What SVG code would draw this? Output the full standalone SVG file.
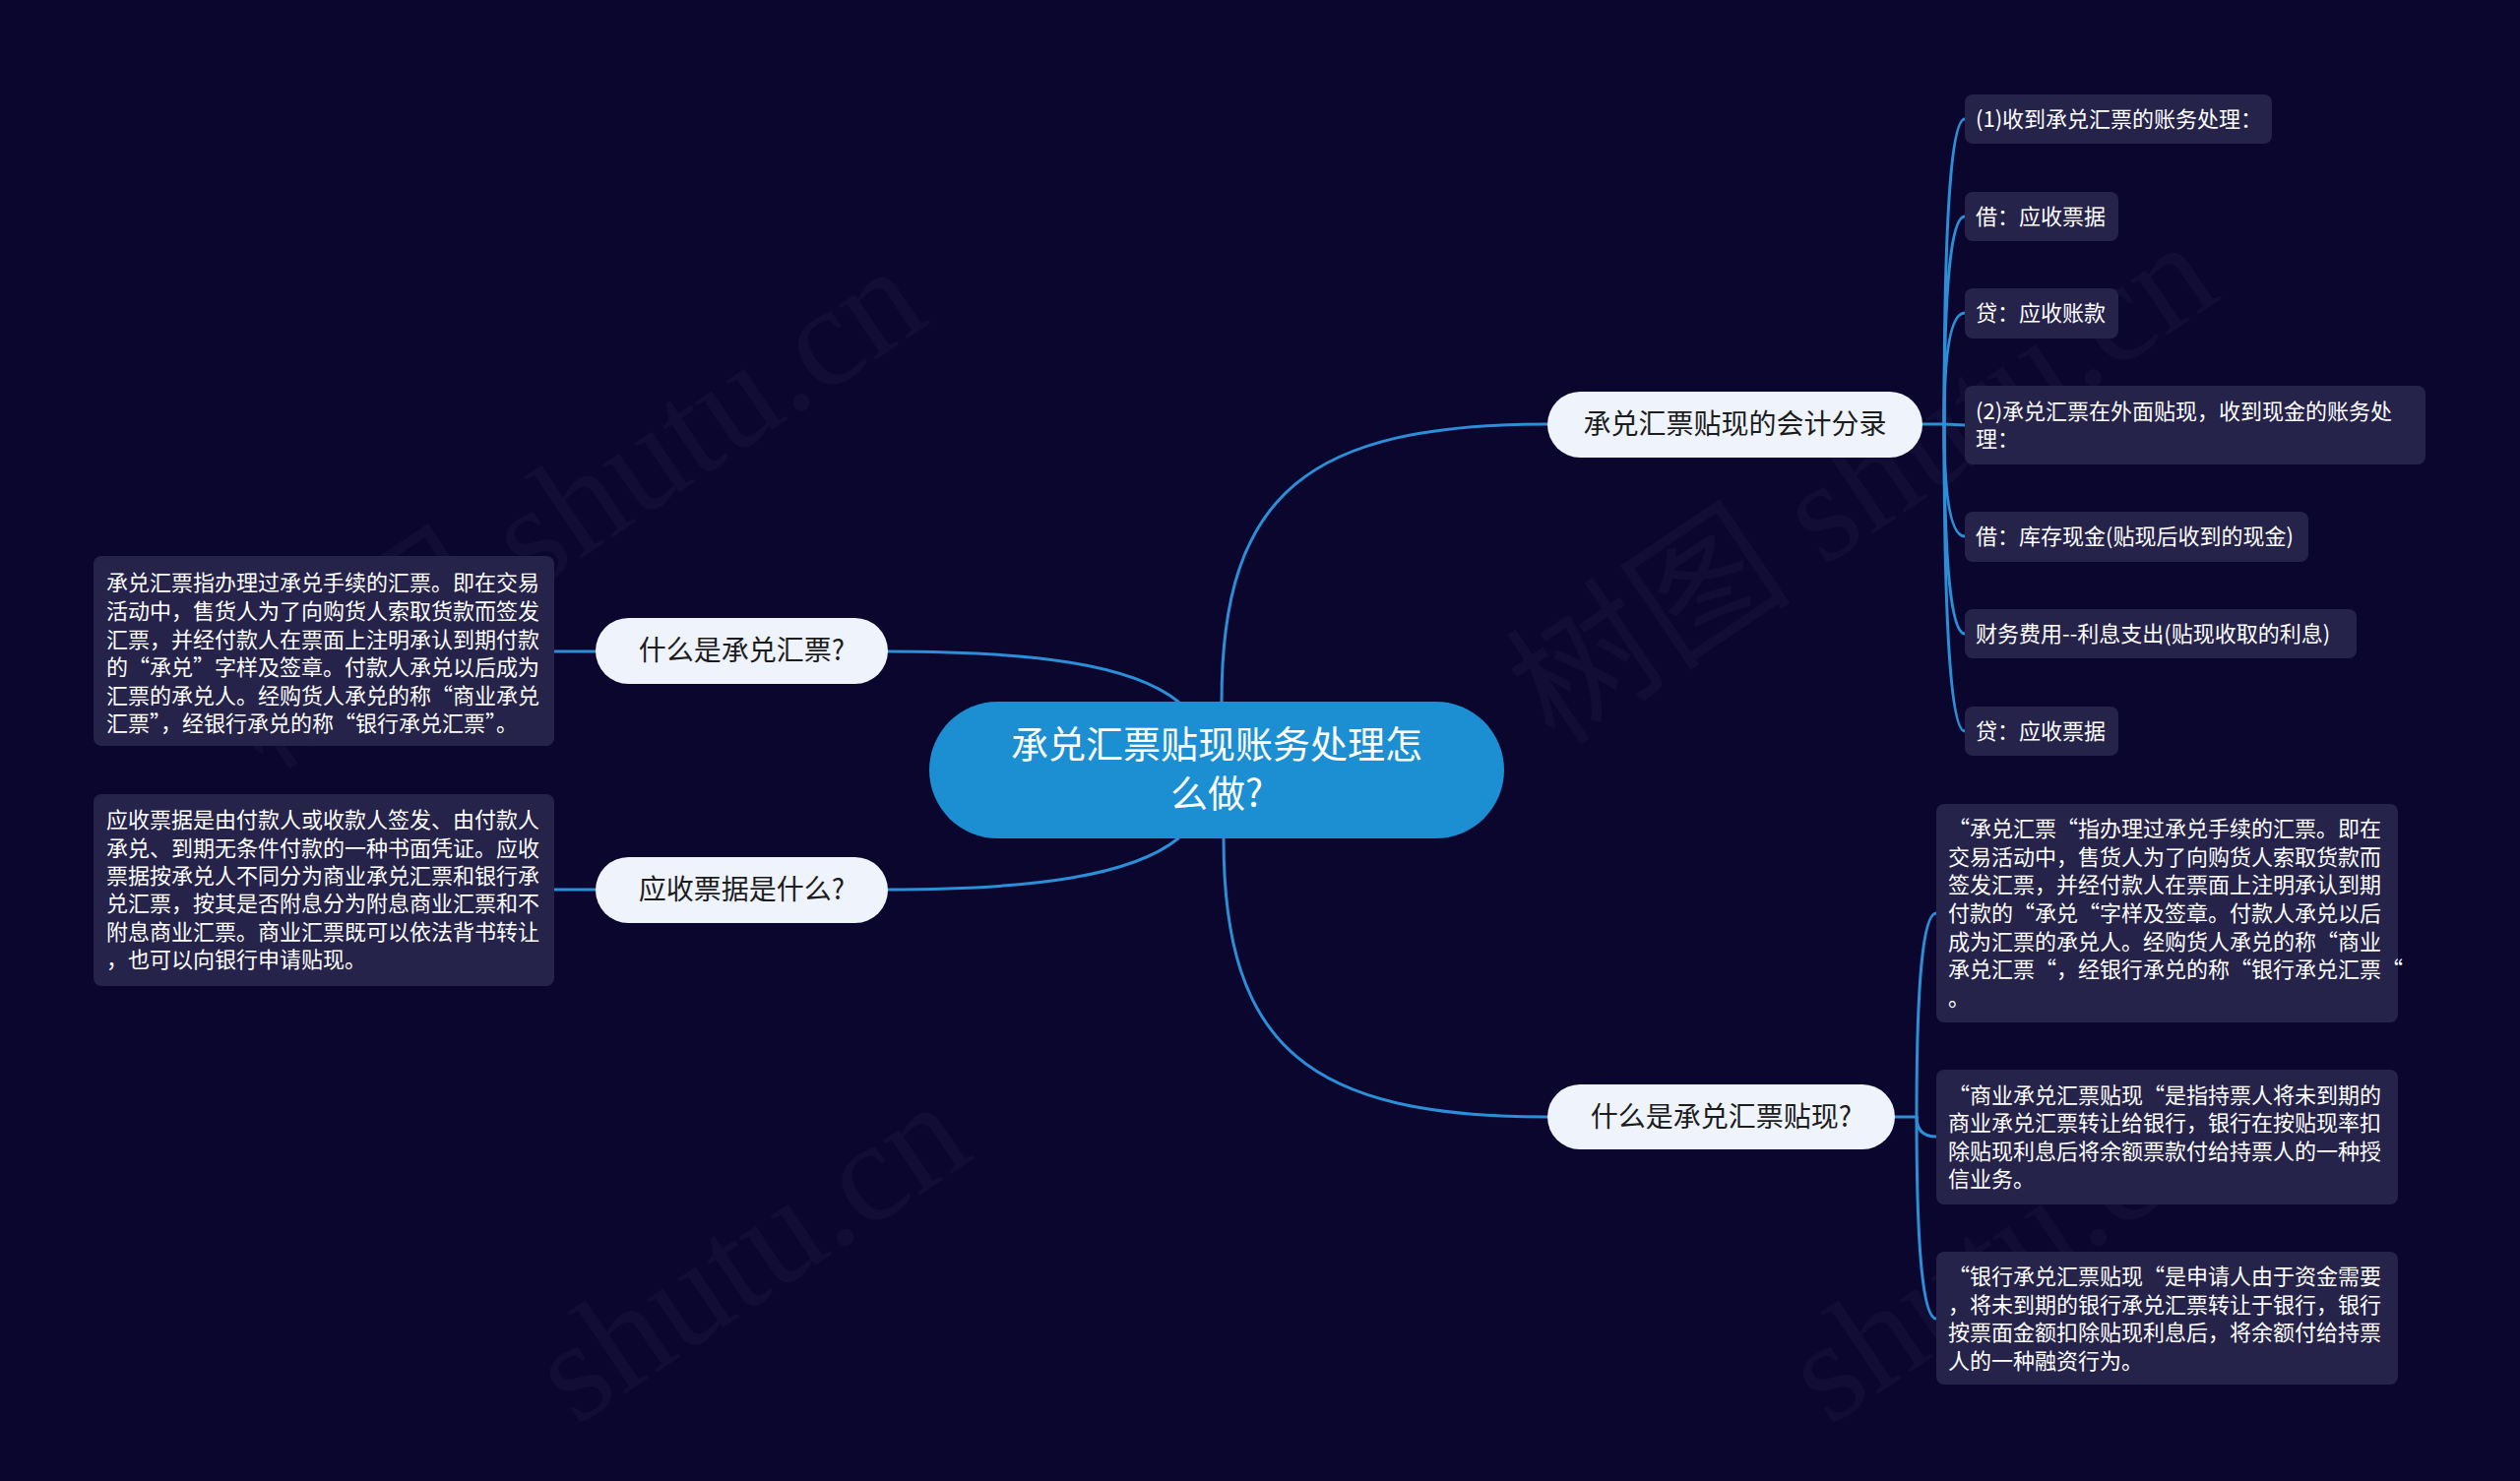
<svg xmlns="http://www.w3.org/2000/svg" width="2560" height="1505" viewBox="0 0 2560 1505">
<style>
text { font-family: 'Noto Sans CJK SC', 'Noto Sans', sans-serif; }
.bg { fill: #0a062e; }
.wm { font-family: 'Liberation Serif', 'Noto Sans CJK SC', serif; font-size: 146px; fill: #ffffff; fill-opacity: 0.03; }
.root rect { fill: #1b8fd2; }
.root text { fill: #ffffff; font-size: 38px; text-anchor: middle; }
.l1 rect { fill: #eef3fc; }
.l1 text { fill: #1c1c1c; font-size: 28px; text-anchor: middle; }
.leaf rect { fill: #26234b; }
.leaf text { fill: #ffffff; font-size: 22px; }
.conn path { fill: none; stroke: #2b8fd8; stroke-width: 3; stroke-linecap: round; }
</style>
<rect class="bg" x="0" y="0" width="2560" height="1505"/>
<g id="watermarks">
<text class="wm" transform="translate(268,785) rotate(-34)">树图 shutu.cn</text>
<text class="wm" transform="translate(1580,760) rotate(-34)">树图 shutu.cn</text>
<text class="wm" transform="translate(585,1450) rotate(-34)">shutu.cn</text>
<text class="wm" transform="translate(1858,1450) rotate(-34)">shutu.cn</text>
</g>
<g id="connectors" class="conn">
<path d="M1241,713 C1241,500 1330,431 1572,431"/>
<path d="M1243,852 C1243,1065 1330,1135 1572,1135"/>
<path d="M1197,713 C1150,675 1050,662 901,662"/>
<path d="M1197,852 C1150,890 1050,904 901,904"/>
<path d="M605,662 L563,662"/>
<path d="M605,904 L563,904"/>
<path d="M1953,431 L1975,431"/>
<path d="M1975,431 Q1975,121 1996,121"/>
<path d="M1975,431 Q1975,220 1996,220"/>
<path d="M1975,431 Q1975,318 1996,318"/>
<path d="M1975,431 L1996,432"/>
<path d="M1975,431 Q1975,545 1996,545"/>
<path d="M1975,431 Q1975,644 1996,644"/>
<path d="M1975,431 Q1975,743 1996,743"/>
<path d="M1925,1135 L1947,1135"/>
<path d="M1947,1135 Q1947,928 1967,928"/>
<path d="M1947,1135 Q1947,1155 1967,1155"/>
<path d="M1947,1135 Q1947,1340 1967,1340"/>
</g>
<g id="root" class="root">
<rect x="944" y="713" width="584" height="139" rx="69.5"/>
<text x="1236" y="770">承兑汇票贴现账务处理怎</text>
<text x="1236" y="820">么做?</text>
</g>
<g id="n-what-acceptance" class="l1">
<rect x="605" y="628" width="297" height="67" rx="33.5"/>
<text x="753.5" y="671">什么是承兑汇票?</text>
</g>
<g id="n-what-receivable" class="l1">
<rect x="605" y="871" width="297" height="67" rx="33.5"/>
<text x="753.5" y="914">应收票据是什么?</text>
</g>
<g id="n-entries" class="l1">
<rect x="1572" y="398" width="381" height="67" rx="33.5"/>
<text x="1762.5" y="441">承兑汇票贴现的会计分录</text>
</g>
<g id="n-what-discount" class="l1">
<rect x="1572" y="1102" width="353" height="66" rx="33"/>
<text x="1748.5" y="1145">什么是承兑汇票贴现?</text>
</g>
<g id="t-acceptance" class="leaf">
<rect x="95" y="565" width="468" height="193" rx="8"/>
<text x="108" y="600">承兑汇票指办理过承兑手续的汇票。即在交易</text>
<text x="108" y="629">活动中，售货人为了向购货人索取货款而签发</text>
<text x="108" y="658">汇票，并经付款人在票面上注明承认到期付款</text>
<text x="108" y="686">的“承兑”字样及签章。付款人承兑以后成为</text>
<text x="108" y="715">汇票的承兑人。经购货人承兑的称“商业承兑</text>
<text x="108" y="743">汇票”，经银行承兑的称“银行承兑汇票”。</text>
</g>
<g id="t-receivable" class="leaf">
<rect x="95" y="807" width="468" height="195" rx="8"/>
<text x="108" y="841">应收票据是由付款人或收款人签发、由付款人</text>
<text x="108" y="870">承兑、到期无条件付款的一种书面凭证。应收</text>
<text x="108" y="898">票据按承兑人不同分为商业承兑汇票和银行承</text>
<text x="108" y="926">兑汇票，按其是否附息分为附息商业汇票和不</text>
<text x="108" y="955">附息商业汇票。商业汇票既可以依法背书转让</text>
<text x="108" y="983">，也可以向银行申请贴现。</text>
</g>
<g id="e1" class="leaf">
<rect x="1996" y="96" width="312" height="50" rx="8"/>
<text x="2007" y="129">(1)收到承兑汇票的账务处理：</text>
</g>
<g id="e2" class="leaf">
<rect x="1996" y="195" width="156" height="50" rx="8"/>
<text x="2007" y="228">借：应收票据</text>
</g>
<g id="e3" class="leaf">
<rect x="1996" y="293" width="156" height="51" rx="8"/>
<text x="2007" y="326">贷：应收账款</text>
</g>
<g id="e4" class="leaf">
<rect x="1996" y="392" width="468" height="80" rx="8"/>
<text x="2007" y="426">(2)承兑汇票在外面贴现，收到现金的账务处</text>
<text x="2007" y="454">理：</text>
</g>
<g id="e5" class="leaf">
<rect x="1996" y="520" width="349" height="51" rx="8"/>
<text x="2007" y="553">借：库存现金(贴现后收到的现金)</text>
</g>
<g id="e6" class="leaf">
<rect x="1996" y="619" width="398" height="50" rx="8"/>
<text x="2007" y="652">财务费用--利息支出(贴现收取的利息)</text>
</g>
<g id="e7" class="leaf">
<rect x="1996" y="718" width="156" height="50" rx="8"/>
<text x="2007" y="751">贷：应收票据</text>
</g>
<g id="d1" class="leaf">
<rect x="1967" y="817" width="469" height="222" rx="8"/>
<text x="1979" y="850">“承兑汇票“指办理过承兑手续的汇票。即在</text>
<text x="1979" y="879">交易活动中，售货人为了向购货人索取货款而</text>
<text x="1979" y="907">签发汇票，并经付款人在票面上注明承认到期</text>
<text x="1979" y="936">付款的“承兑“字样及签章。付款人承兑以后</text>
<text x="1979" y="965">成为汇票的承兑人。经购货人承兑的称“商业</text>
<text x="1979" y="993">承兑汇票“，经银行承兑的称“银行承兑汇票“</text>
<text x="1979" y="1022">。</text>
</g>
<g id="d2" class="leaf">
<rect x="1967" y="1087" width="469" height="137" rx="8"/>
<text x="1979" y="1121">“商业承兑汇票贴现“是指持票人将未到期的</text>
<text x="1979" y="1149">商业承兑汇票转让给银行，银行在按贴现率扣</text>
<text x="1979" y="1178">除贴现利息后将余额票款付给持票人的一种授</text>
<text x="1979" y="1206">信业务。</text>
</g>
<g id="d3" class="leaf">
<rect x="1967" y="1272" width="469" height="135" rx="8"/>
<text x="1979" y="1305">“银行承兑汇票贴现“是申请人由于资金需要</text>
<text x="1979" y="1334">，将未到期的银行承兑汇票转让于银行，银行</text>
<text x="1979" y="1362">按票面金额扣除贴现利息后，将余额付给持票</text>
<text x="1979" y="1391">人的一种融资行为。</text>
</g>
</svg>
